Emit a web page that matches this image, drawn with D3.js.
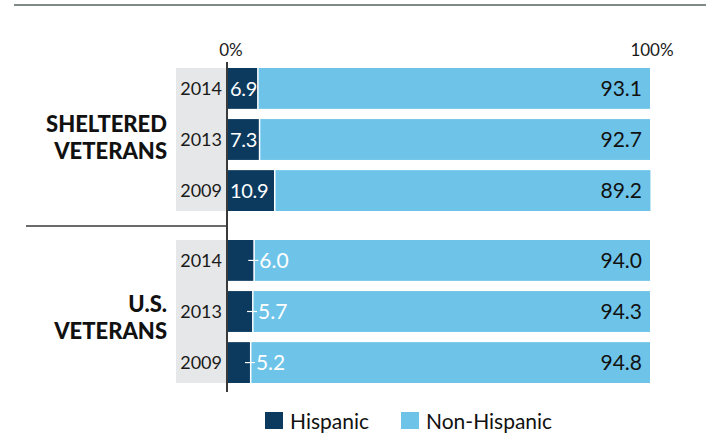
<!DOCTYPE html>
<html>
<head>
<meta charset="utf-8">
<script src="https://cdn.jsdelivr.net/npm/d3@7/dist/d3.min.js"></script>
<style>
  html, body { margin: 0; padding: 0; background: #fff; }
  svg { display: block; font-family: Lato, "Noto Sans", sans-serif; }
</style>
</head>
<body>
<svg id="chart" width="706" height="433"></svg>
<script>
// Ethnicity of veterans, share of each population (%)
const groups = ["SHELTERED VETERANS", "U.S. VETERANS"];
const groupLines = [["SHELTERED", "VETERANS"], ["U.S.", "VETERANS"]];
const years = ["2014", "2013", "2009"];
const hispanic = [[6.9, 7.3, 10.9], [6.0, 5.7, 5.2]];
const nonHispanic = [[93.1, 92.7, 89.2], [94.0, 94.3, 94.8]];
const axisTicks = [0, 100];
const seriesNames = ["Hispanic", "Non-Hispanic"];
const colors = ["#0c3a5e", "#6ec4e8"];

const svg = d3.select("#chart");

const x = d3.scaleLinear().domain([0, 100]).range([228, 650]);

// each group occupies its own vertical block
const groupRange = [[68, 211], [240, 383]];
const titleBaselines = [[132, 159], [312, 339]];
const yBands = groupRange.map(r =>
  d3.scaleBand().domain(years).range(r).paddingInner(0.2).paddingOuter(0));

// top rule
svg.append("line")
  .attr("x1", 14).attr("x2", 706).attr("y1", 5).attr("y2", 5)
  .attr("stroke", "#7f8986").attr("stroke-width", 2);

// axis tick labels
svg.selectAll("text.tick")
  .data(axisTicks)
  .join("text")
  .attr("class", "tick")
  .attr("x", d => x(d) + (d === 0 ? 3 : 2))
  .attr("y", 56)
  .attr("text-anchor", "middle")
  .attr("font-size", 17)
  .attr("fill", "#1a1a1a")
  .text(d => d + "%");

groups.forEach((g, gi) => {
  const y = yBands[gi];
  const layer = svg.append("g");

  // grey year-label panel
  layer.append("rect")
    .attr("x", 176).attr("y", groupRange[gi][0])
    .attr("width", 51).attr("height", groupRange[gi][1] - groupRange[gi][0])
    .attr("fill", "#e6e7e8");

  const rows = years.map((yr, i) => ({
    year: yr, h: hispanic[gi][i], n: nonHispanic[gi][i]
  }));

  // year labels
  layer.selectAll("text.year")
    .data(rows)
    .join("text")
    .attr("class", "year")
    .attr("x", 222)
    .attr("y", d => y(d.year) + y.bandwidth() / 2)
    .attr("dy", "0.36em")
    .attr("text-anchor", "end")
    .attr("font-size", 18)
    .attr("fill", "#1a1a1a")
    .text(d => d.year);

  // non-hispanic segment
  layer.selectAll("rect.non")
    .data(rows)
    .join("rect")
    .attr("class", "non")
    .attr("x", d => x(d.h) + 1.5)
    .attr("y", d => y(d.year))
    .attr("width", d => x(d.h + d.n) - x(d.h) - 1.5)
    .attr("height", y.bandwidth())
    .attr("fill", colors[1]);

  // hispanic segment
  layer.selectAll("rect.his")
    .data(rows)
    .join("rect")
    .attr("class", "his")
    .attr("x", x(0))
    .attr("y", d => y(d.year))
    .attr("width", d => x(d.h) - x(0))
    .attr("height", y.bandwidth())
    .attr("fill", colors[0]);

  // non-hispanic value labels
  layer.selectAll("text.nval")
    .data(rows)
    .join("text")
    .attr("class", "nval")
    .attr("x", 642)
    .attr("y", d => y(d.year) + y.bandwidth() / 2)
    .attr("dy", "0.36em")
    .attr("text-anchor", "end")
    .attr("font-size", 21)
    .attr("fill", "#111")
    .text(d => d.n.toFixed(1));

  if (gi === 0) {
    // values fit inside the dark segment
    layer.selectAll("text.hval")
      .data(rows)
      .join("text")
      .attr("class", "hval")
      .attr("x", x(0) + 2)
      .attr("y", d => y(d.year) + y.bandwidth() / 2)
      .attr("dy", "0.36em")
      .attr("font-size", 20)
      .attr("letter-spacing", -0.3)
      .attr("fill", "#fff")
      .text(d => d.h.toFixed(1));
  } else {
    // narrow segments: leader tick then value outside
    layer.selectAll("line.lead")
      .data(rows)
      .join("line")
      .attr("class", "lead")
      .attr("x1", d => x(d.h) - 5)
      .attr("x2", d => x(d.h) + 5)
      .attr("y1", d => y(d.year) + y.bandwidth() / 2)
      .attr("y2", d => y(d.year) + y.bandwidth() / 2)
      .attr("stroke", "#fff").attr("stroke-width", 1.2);
    layer.selectAll("text.hval")
      .data(rows)
      .join("text")
      .attr("class", "hval")
      .attr("x", d => x(d.h) + 6)
      .attr("y", d => y(d.year) + y.bandwidth() / 2)
      .attr("dy", "0.36em")
      .attr("font-size", 21)
      .attr("fill", "#fff")
      .text(d => d.h.toFixed(1));
  }

  // group title
  const title = layer.append("text")
    .attr("text-anchor", "end")
    .attr("font-size", 22)
    .attr("font-weight", 900)
    .attr("fill", "#111");
  groupLines[gi].forEach((t, li) => {
    title.append("tspan")
      .attr("x", 167)
      .attr("y", titleBaselines[gi][li])
      .text(t);
  });
});

// separator between the two groups
svg.append("line")
  .attr("x1", 26).attr("x2", 227).attr("y1", 226).attr("y2", 226)
  .attr("stroke", "#3a3a3a").attr("stroke-width", 1.5);

// zero axis line
svg.append("line")
  .attr("x1", 227).attr("x2", 227).attr("y1", 62).attr("y2", 392)
  .attr("stroke", "#3a3a3a").attr("stroke-width", 2);

// legend
const legendX = [265, 401];
const legend = svg.append("g");
seriesNames.forEach((s, i) => {
  legend.append("rect")
    .attr("x", legendX[i]).attr("y", 412)
    .attr("width", 18).attr("height", 17)
    .attr("fill", colors[i]);
  legend.append("text")
    .attr("x", legendX[i] + 25).attr("y", 421)
    .attr("dy", "0.36em")
    .attr("font-size", 21)
    .attr("fill", "#111")
    .text(s);
});
</script>
</body>
</html>
